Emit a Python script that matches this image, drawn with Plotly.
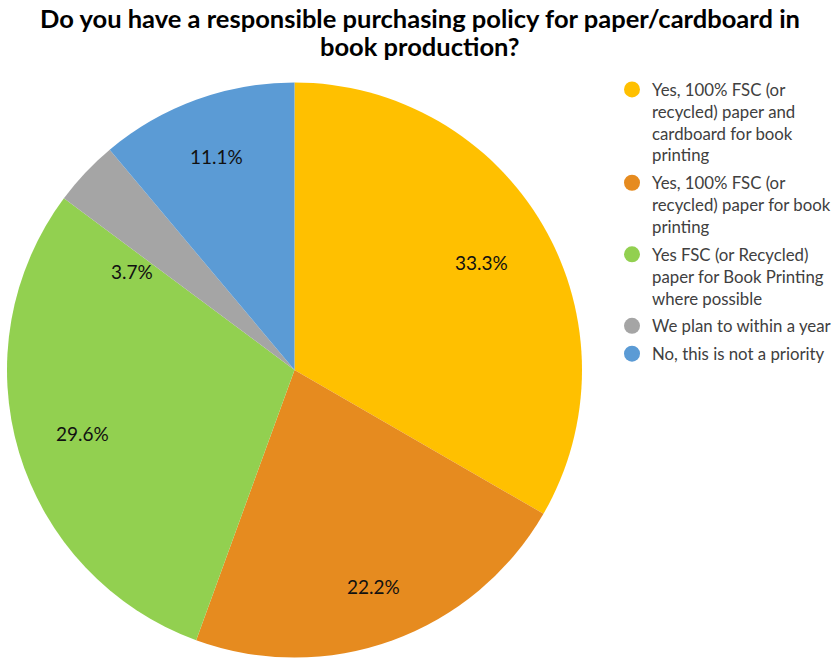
import math
import plotly.graph_objects as go

categories = [
    "Yes, 100% FSC (or<br>recycled) paper and<br>cardboard for book<br>printing",
    "Yes, 100% FSC (or<br>recycled) paper for book<br>printing",
    "Yes FSC (or Recycled)<br>paper for Book Printing<br>where possible",
    "We plan to within a year",
    "No, this is not a priority",
]
counts = [9, 6, 8, 1, 3]
colors = ["#FFC000", "#E68B1F", "#92D050", "#A5A5A5", "#5B9BD5"]
# label placement: fraction of radius and angular nudge (degrees) off the bisector
label_radius = [0.75, 0.80, 0.77, 0.66, 0.79]
label_nudge = [0, 0, 0, -12, 0]

W, H = 839, 659
FONT = "Lato, Open Sans, sans-serif"

# pie placement (pixels)
PX0, PX1 = 7, 582
PY0, PY1 = 82, 658
cx_px = (PX0 + PX1) / 2
cy_px = (PY0 + PY1) / 2
R_px = min(PX1 - PX0, PY1 - PY0) / 2

fig = go.Figure()
fig.add_trace(go.Pie(
    labels=categories,
    values=counts,
    marker=dict(colors=colors, line=dict(width=0)),
    sort=False,
    direction="clockwise",
    rotation=0,
    textinfo="none",
    showlegend=False,
    hoverinfo="label+percent",
    domain=dict(x=[PX0 / W, PX1 / W], y=[1 - PY1 / H, 1 - PY0 / H]),
))

# percentage labels placed along each slice's bisector
total = sum(counts)
start = 0.0
for v, rf, nd in zip(counts, label_radius, label_nudge):
    frac = v / total
    mid = (start + frac / 2) * 2 * math.pi + math.radians(nd)  # clockwise from 12 o'clock
    start += frac
    x_px = cx_px + rf * R_px * math.sin(mid)
    y_px = cy_px - rf * R_px * math.cos(mid)
    fig.add_annotation(
        x=x_px / W, y=1 - y_px / H, xref="paper", yref="paper",
        text=f"{frac * 100:.1f}%", showarrow=False,
        font=dict(family=FONT, size=19, color="#111111"),
        xanchor="center", yanchor="middle",
    )

# circular legend markers
for name, col in zip(categories, colors):
    fig.add_trace(go.Scatter(
        x=[None], y=[None], mode="markers", name=name,
        marker=dict(symbol="circle", size=18, color=col),
        legendgroup=name,
    ))

title_lines = [
    "Do you have a responsible purchasing policy for paper/cardboard in",
    "book production?",
]
for i, line in enumerate(title_lines):
    fig.add_annotation(
        x=420 / W, y=1 - (18 + 28 * i) / H, xref="paper", yref="paper",
        xanchor="center", yanchor="middle", showarrow=False,
        text=f"<b>{line}</b>",
        font=dict(family=FONT, size=25.5, color="#000000"),
    )

fig.update_layout(
    width=W, height=H,
    margin=dict(l=0, r=0, t=0, b=0),
    paper_bgcolor="white",
    plot_bgcolor="white",
    xaxis=dict(visible=False, domain=[0.99, 1]),
    yaxis=dict(visible=False, domain=[0.99, 1]),
    legend=dict(
        x=612 / W, xanchor="left", y=1 - 72 / H, yanchor="top",
        font=dict(family=FONT, size=16.8, color="#404040"),
        itemsizing="trace",
        valign="top",
        tracegroupgap=3,
        bgcolor="rgba(0,0,0,0)",
    ),
)

fig.write_html("out.html")
